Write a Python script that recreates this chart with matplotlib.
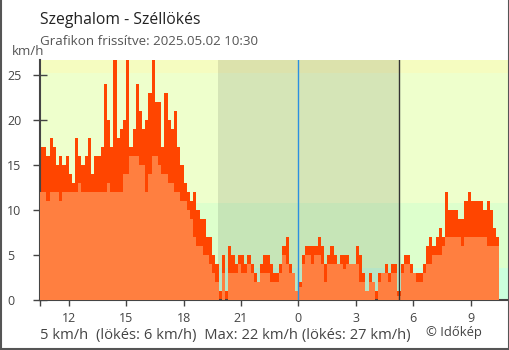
## Szeghalom - Széllökés : wind and gust bars over the last 24 hours ##
import numpy as np
import matplotlib
matplotlib.use('Agg')
import matplotlib.pyplot as plt
from matplotlib.lines import Line2D

plt.rcParams['font.family'] = ['Open Sans', 'DejaVu Sans']

##############################################################################
############################     Data     ####################################
##############################################################################
start_hour = 10.5          # 10:30 of the previous day
step_hour = 1/6            # one bar every 10 minutes

# gust (km/h), one value every 10 min from 10:30 to 10:20 next day
gust = [17, 17, 16, 18, 17, 15, 16, 15, 16, 14,
        13, 18, 16, 15, 16, 18, 14, 16, 16, 17,
        24, 20, 17, 27, 18, 19, 20, 27, 17, 19,
        24, 21, 19, 20, 23, 27, 22, 22, 17, 23,
        20, 19, 21, 17, 15, 13, 12, 11, 12, 10,
        9, 9, 7, 7, 5, 4, 1, 5, 1, 6,
        5, 4, 5, 5, 4, 5, 4, 3, 2, 4,
        5, 5, 4, 3, 3, 4, 6, 7, 4, 3,
        1, 2, 5, 6, 6, 6, 6, 7, 6, 4,
        5, 6, 5, 4, 5, 5, 5, 4, 4, 6,
        5, 3, 1, 3, 2, 1, 3, 3, 4, 3,
        4, 4, 1, 4, 5, 5, 4, 3, 3, 3,
        4, 6, 7, 6, 7, 8, 7, 12, 10, 10,
        10, 9, 9, 11, 12, 11, 11, 11, 11, 10,
        11, 10, 8, 7]

# mean wind (km/h), same time steps
wind = [12, 12, 11, 12, 12, 12, 11, 12, 12, 12,
        12, 12, 13, 12, 12, 12, 12, 12, 12, 12,
        12, 13, 12, 12, 12, 12, 14, 14, 16, 16,
        16, 15, 15, 12, 14, 16, 16, 15, 14, 14,
        13, 13, 12, 12, 11, 11, 10, 9, 7, 6,
        6, 5, 5, 4, 3, 2, 0, 3, 0, 3,
        3, 3, 4, 3, 3, 4, 3, 2, 2, 3,
        3, 3, 2, 2, 2, 3, 5, 4, 3, 3,
        1, 1.5, 4, 5, 5, 4, 5, 5, 4, 2,
        4, 4, 4, 4, 4, 3.5, 4, 4, 4, 4,
        2, 2, 1, 2, 2, 0, 2, 3, 3, 2,
        3, 3, 0.5, 3, 4, 4, 3, 3, 2, 2,
        3, 4, 4, 5, 5, 5, 6, 7, 7, 7,
        7, 7, 6, 7, 7, 7, 7, 7, 7, 7,
        6, 6, 6, 6]

sunset = 19.8      # 19:48
sunrise = 29.27    # 05:16 next day
midnight = 24.0

# background bands (km/h)
band_edges = [0, 3.6, 10.8, 25.2, 40]
band_colors = ['#ccffdd', '#ddffcc', '#eeffcc', '#f5fcc0']

x_ticks = [12, 15, 18, 21, 24, 27, 30, 33]
x_tick_labels = ['12', '15', '18', '21', '0', '3', '6', '9']
y_ticks = [0, 5, 10, 15, 20, 25]

title = 'Szeghalom - Széllökés'
subtitle = 'Grafikon frissítve: 2025.05.02 10:30'
footer = '5 km/h  (lökés: 6 km/h)  Max: 22 km/h (lökés: 27 km/h)'
credit = '© Időkép'

##############################################################################
############################     Plot     ####################################
##############################################################################
W, H = 510, 350
fig = plt.figure(figsize=(W/100, H/100), dpi=100)
ax = fig.add_axes([40/W, 50/H, 469/W, 240/H])

times = start_hour + step_hour*np.arange(len(gust))

# bands and night shading
for i in range(len(band_colors)):
    ax.axhspan(band_edges[i], band_edges[i+1], color=band_colors[i], lw=0, zorder=0)
ax.axvspan(sunset, sunrise, color='black', alpha=0.1, lw=0, zorder=1)

# gust behind, mean wind in front
ax.bar(times, gust, width=step_hour, align='edge', color='#ff4500', lw=0, zorder=2)
ax.bar(times, wind, width=step_hour, align='edge', color='#ff7f40', lw=0, zorder=3)

ax.axvline(midnight, color='#2b8fe0', lw=1, zorder=4)
ax.axvline(sunrise, color='#333333', lw=1, zorder=4)

ax.set_xlim(10.5, 35.0)
ax.set_ylim(0, 26.7)

for s in ['top', 'right']:
    ax.spines[s].set_visible(False)
for s in ['left', 'bottom']:
    ax.spines[s].set_color('#444444')
    ax.spines[s].set_linewidth(1.5)

ax.set_xticks([10.5] + x_ticks)
ax.set_xticklabels([''] + x_tick_labels)
ax.tick_params(axis='x', direction='out', length=4.5, width=1, color='#444444',
               labelsize=9, labelcolor='#444444', pad=4)
ax.xaxis.get_major_ticks()[5].tick1line.set_color('#2b8fe0')

ax.set_yticks(y_ticks)
ax.set_yticklabels([str(v) for v in y_ticks])
ax.tick_params(axis='y', direction='inout', length=9.5, width=1, color='#444444',
               labelsize=9, labelcolor='#444444', pad=19)
for lab in ax.get_yticklabels():
    lab.set_ha('left')

# texts
fig.text(40/W, 1-24/H, title, fontsize=11.3, color='#222222', va='baseline')
fig.text(40/W, 1-45/H, subtitle, fontsize=9.6, color='#555555', va='baseline')
fig.text(12/W, 1-55/H, 'km/h', fontsize=9.5, color='#555555', va='baseline')
fig.text(40/W, 1-339/H, footer, fontsize=10.6, color='#444444', va='baseline')
fig.text(482/W, 1-336/H, credit, fontsize=9.4, color='#444444', va='baseline', ha='right')

# frame round the picture
for xs, ys in [([0.5/W, 0.5/W], [0, 1]), ([1-1/W, 1-1/W], [0, 1]), ([0, 1], [1/H, 1/H])]:
    fig.add_artist(Line2D(xs, ys, color='#555555', lw=1.5, transform=fig.transFigure))

fig.savefig('out.png', dpi=100)
